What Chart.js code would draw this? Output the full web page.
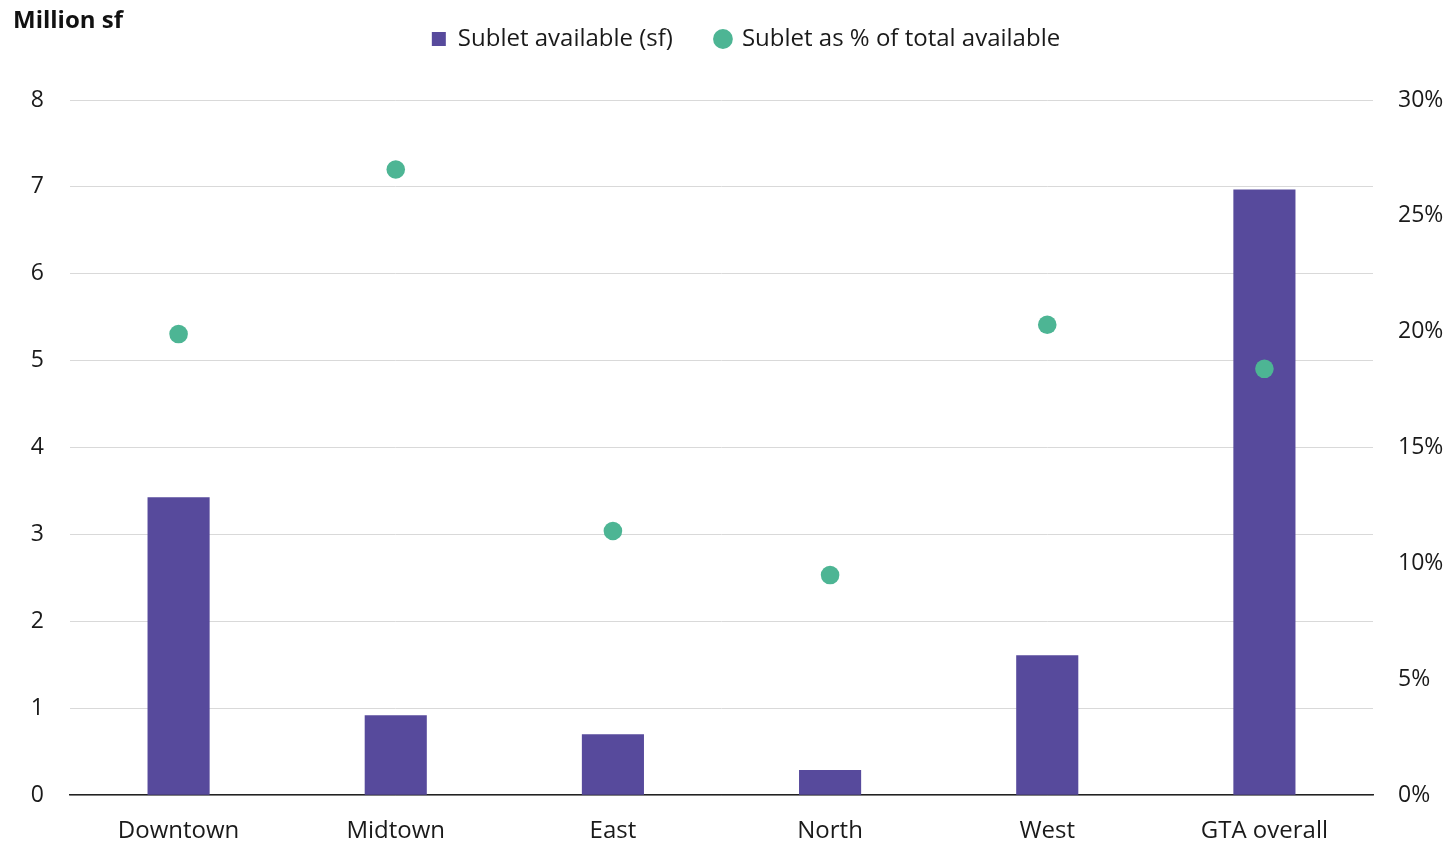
<!DOCTYPE html>
<html>
<head>
<meta charset="utf-8">
<script src="https://cdn.jsdelivr.net/npm/chart.js@4"></script>
<style>
  html, body { margin: 0; padding: 0; background: #fff; }
  #wrap { position: relative; width: 1448px; height: 842px; }
  #unit { position: absolute; left: 13px; top: 2px; font: bold 24px "Open Sans", sans-serif; color: #111; }
</style>
</head>
<body>
<div id="wrap">
  <div id="unit">Million sf</div>
  <canvas id="chart" width="1448" height="842"></canvas>
</div>
<script>
const categories = ["Downtown", "Midtown", "East", "North", "West", "GTA overall"];
const subletSf = [3.43, 0.92, 0.70, 0.29, 1.61, 6.97];
const subletPct = [19.9, 27.0, 11.4, 9.5, 20.3, 18.4];
const leftTicks = [0, 1, 2, 3, 4, 5, 6, 7, 8];
const rightTicks = [0, 5, 10, 15, 20, 25, 30];

const FONT = "'Open Sans', sans-serif";
const textColor = "#1a1a1a";

// nudge the legend: fixed height, shifted a bit right and up like the original
const legendTweak = {
  id: "legendTweak",
  afterInit(chart) {
    const legend = chart.legend;
    const origFit = legend.fit;
    legend.fit = function () {
      origFit.call(this);
      this.height = 100;
    };
    const origDraw = legend.draw;
    legend.draw = function (area) {
      const c = this.ctx;
      c.save();
      c.translate(22, -16);
      origDraw.call(this, area);
      c.restore();
    };
  }
};

const ctx = document.getElementById("chart").getContext("2d");
new Chart(ctx, {
  data: {
    labels: categories,
    datasets: [
      {
        type: "line",
        label: "Sublet as % of total available",
        data: subletPct,
        yAxisID: "yRight",
        showLine: false,
        pointRadius: 9.3,
        pointHoverRadius: 9.3,
        pointStyle: "circle",
        backgroundColor: "#4db594",
        borderColor: "#4db594",
        borderWidth: 0,
        order: 0
      },
      {
        type: "bar",
        label: "Sublet available (sf)",
        data: subletSf,
        yAxisID: "yLeft",
        backgroundColor: "#574a9c",
        borderWidth: 0,
        pointStyle: "rect",
        barPercentage: 0.286,
        categoryPercentage: 1.0,
        order: 1
      }
    ]
  },
  plugins: [legendTweak],
  options: {
    responsive: false,
    animation: false,
    layout: { padding: { left: 0, right: 0, top: 0, bottom: -26 } },
    plugins: {
      tooltip: { enabled: false },
      legend: {
        position: "top",
        reverse: true,
        labels: {
          usePointStyle: true,
          boxWidth: 14,
          boxHeight: 14,
          padding: 43,
          color: textColor,
          font: { family: FONT, size: 24 }
        }
      }
    },
    scales: {
      x: {
        grid: { display: false, drawTicks: false },
        border: { display: true, color: "#222", width: 1.5 },
        ticks: { color: textColor, font: { family: FONT, size: 24 }, padding: 22 }
      },
      yLeft: {
        position: "left",
        min: 0,
        max: 8,
        afterBuildTicks: s => { s.ticks = leftTicks.map(v => ({ value: v })); },
        afterFit: s => { s.width = 70; },
        grid: { color: "#d9d9d9", lineWidth: 1, drawTicks: false },
        border: { display: false },
        ticks: { color: textColor, font: { family: FONT, size: 23 }, padding: 26 }
      },
      yRight: {
        position: "right",
        min: 0,
        max: 30,
        afterBuildTicks: s => { s.ticks = rightTicks.map(v => ({ value: v })); },
        afterFit: s => { s.width = 75; },
        grid: { display: false, drawTicks: false },
        border: { display: false },
        ticks: {
          color: textColor,
          font: { family: FONT, size: 23 },
          padding: 25,
          callback: v => v + "%"
        }
      }
    }
  }
});
</script>
</body>
</html>
